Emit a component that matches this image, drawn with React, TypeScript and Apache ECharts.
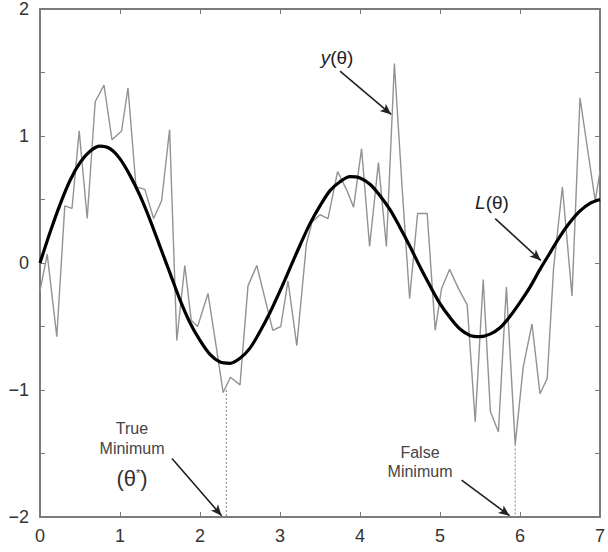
import React, { useEffect, useRef } from "react";
import * as echarts from "echarts";

// Noisy measurements y(θ)
const thetaNoisy = [
  0.0, 0.09, 0.21, 0.31, 0.4, 0.49, 0.59, 0.69, 0.8, 0.9, 1.02, 1.1, 1.2, 1.31, 1.42, 1.52, 1.62,
  1.71, 1.81, 1.89, 1.97, 2.1, 2.21, 2.29, 2.38, 2.5, 2.6, 2.71, 2.91, 3.01, 3.1, 3.21, 3.33, 3.4,
  3.5, 3.6, 3.72, 3.83, 3.92, 4.02, 4.12, 4.23, 4.33, 4.43, 4.53, 4.62, 4.72, 4.84, 4.94, 5.02,
  5.12, 5.23, 5.34, 5.44, 5.54, 5.63, 5.73, 5.83, 5.94, 6.04, 6.15, 6.25, 6.34, 6.42, 6.53, 6.65,
  6.75, 6.94, 7.0,
];
const yNoisy = [
  -0.22, 0.07, -0.58, 0.45, 0.43, 1.04, 0.35, 1.27, 1.4, 0.97, 1.04, 1.38, 0.6, 0.58, 0.35, 0.49, 1.05,
  -0.61, -0.02, -0.45, -0.5, -0.24, -0.69, -1.02, -0.9, -0.96, -0.18, -0.02, -0.53, -0.5, -0.14, -0.65, 0.15, 0.32,
  0.38, 0.35, 0.72, 0.58, 0.44, 0.9, 0.13, 0.79, 0.13, 1.57, 0.56, -0.28, 0.39, 0.39, -0.53, -0.2,
  -0.05, -0.2, -0.33, -1.25, -0.13, -1.17, -1.33, -0.19, -1.43, -0.82, -0.48, -1.03, -0.91, -0.04, 0.6, -0.26,
  1.3, 0.49, 0.72,
];

// Smooth loss function L(θ), read at θ = 0, 0.125, ..., 7
const thetaSmooth = [
  0, 0.125, 0.25, 0.375, 0.5, 0.625, 0.75, 0.875, 1, 1.125, 1.25, 1.375, 1.5, 1.625, 1.75, 1.875,
  2, 2.125, 2.25, 2.375, 2.5, 2.625, 2.75, 2.875, 3, 3.125, 3.25, 3.375, 3.5, 3.625, 3.75, 3.875,
  4, 4.125, 4.25, 4.375, 4.5, 4.625, 4.75, 4.875, 5, 5.125, 5.25, 5.375, 5.5, 5.625, 5.75, 5.875,
  6, 6.125, 6.25, 6.375, 6.5, 6.625, 6.75, 6.875, 7,
];
const lSmooth = [
  0, 0.24, 0.46, 0.65, 0.79, 0.88, 0.92, 0.9, 0.82, 0.69, 0.53, 0.34, 0.13, -0.08, -0.29, -0.47,
  -0.61, -0.72, -0.78, -0.79, -0.75, -0.67, -0.54, -0.39, -0.22, -0.04, 0.14, 0.31, 0.45, 0.57, 0.64, 0.68,
  0.67, 0.62, 0.53, 0.42, 0.28, 0.13, -0.03, -0.18, -0.32, -0.43, -0.52, -0.57, -0.58, -0.56, -0.51, -0.42,
  -0.31, -0.19, -0.05, 0.08, 0.21, 0.32, 0.41, 0.47, 0.5,
];

const xTicks = [0, 1, 2, 3, 4, 5, 6, 7];
const yTicks = [-2, -1, 0, 1, 2];

// Annotation anchors (data coordinates)
const trueMinTheta = 2.33;
const trueMinY = -1.0;
const falseMinTheta = 5.94;
const falseMinY = -1.43;
const arrowYTheta = [[3.75, 1.51], [4.39, 1.17]];
const arrowLTheta = [[5.69, 0.35], [6.26, 0.02]];
const arrowTrueMin = [[1.65, -1.54], [2.27, -1.99]];
const arrowFalseMin = [[5.27, -1.71], [5.87, -1.99]];

const FONT = "'Liberation Sans', Arial, Helvetica, sans-serif";

export default function App() {
  const ref = useRef<HTMLDivElement>(null);
  useEffect(() => {
    if (!ref.current) return;
    const chart = echarts.init(ref.current, undefined, { renderer: "svg" });
    const xMin = xTicks[0];
    const xMax = xTicks[xTicks.length - 1];
    const yMin = yTicks[0];
    const yMax = yTicks[yTicks.length - 1];
    const axisLineStyle = { color: "#7a7a7a", width: 2 };
    const tick = () => ({ show: true, inside: true, length: 5, lineStyle: { color: "#7a7a7a", width: 1 } });
    const fmtY = (v: number) => {
      if (Math.abs(v - Math.round(v)) > 1e-6) return "";
      return v < 0 ? "\u2212" + Math.abs(v) : String(v);
    };
    const arrow = (pts: number[][]) => [
      { coord: pts[0], symbol: "none" },
      { coord: pts[1], symbol: "arrow" },
    ];
    chart.setOption({
      animation: false,
      backgroundColor: "#ffffff",
      grid: { left: 40, right: 8, top: 7, bottom: 35, containLabel: false },
      xAxis: [
        {
          type: "value",
          min: xMin,
          max: xMax,
          interval: 1,
          position: "bottom",
          axisLine: { onZero: false, lineStyle: axisLineStyle },
          axisTick: tick(),
          splitLine: { show: false },
          axisLabel: { fontSize: 18, color: "#333", fontFamily: FONT, margin: 10 },
        },
        {
          type: "value",
          min: xMin,
          max: xMax,
          interval: 1,
          position: "top",
          axisLine: { onZero: false, lineStyle: axisLineStyle },
          axisTick: tick(),
          splitLine: { show: false },
          axisLabel: { show: false },
        },
      ],
      yAxis: [
        {
          type: "value",
          min: yMin,
          max: yMax,
          interval: 0.5,
          position: "left",
          axisLine: { show: true, onZero: false, lineStyle: axisLineStyle },
          axisTick: tick(),
          splitLine: { show: false },
          axisLabel: { fontSize: 18, color: "#333", fontFamily: FONT, margin: 11, formatter: fmtY },
        },
        {
          type: "value",
          min: yMin,
          max: yMax,
          interval: 0.5,
          position: "right",
          axisLine: { show: true, onZero: false, lineStyle: axisLineStyle },
          axisTick: tick(),
          splitLine: { show: false },
          axisLabel: { show: false },
        },
      ],
      series: [
        {
          name: "y(θ)",
          type: "line",
          data: thetaNoisy.map((t, i) => [t, yNoisy[i]]),
          showSymbol: false,
          lineStyle: { color: "#929292", width: 1.4 },
          z: 2,
        },
        {
          name: "L(θ)",
          type: "line",
          data: thetaSmooth.map((t, i) => [t, lSmooth[i]]),
          smooth: 0.3,
          showSymbol: false,
          lineStyle: { color: "#000", width: 3.2 },
          z: 3,
        },
        {
          name: "trueMin",
          type: "line",
          data: [
            [trueMinTheta, trueMinY],
            [trueMinTheta, yMin],
          ],
          showSymbol: false,
          lineStyle: { color: "#9a9a9a", width: 1.2, type: [2, 2] },
          z: 1,
          markLine: {
            silent: true,
            symbolSize: [7, 11],
            label: { show: false },
            lineStyle: { color: "#222", width: 1.6, type: "solid" },
            data: [arrow(arrowYTheta), arrow(arrowLTheta), arrow(arrowTrueMin), arrow(arrowFalseMin)],
          },
        },
        {
          name: "falseMin",
          type: "line",
          data: [
            [falseMinTheta, falseMinY],
            [falseMinTheta, yMin],
          ],
          showSymbol: false,
          lineStyle: { color: "#9a9a9a", width: 1.2, type: [2, 2] },
          z: 1,
        },
      ],
      graphic: [
        {
          type: "text",
          x: 337,
          y: 57,
          style: {
            text: "{i|y}(θ)",
            fontSize: 19,
            fontFamily: FONT,
            fill: "#222",
            align: "center",
            verticalAlign: "middle",
            rich: { i: { fontStyle: "italic", fontSize: 19, fontFamily: FONT, fill: "#222" } },
          },
        },
        {
          type: "text",
          x: 492,
          y: 202,
          style: {
            text: "{i|L}(θ)",
            fontSize: 19,
            fontFamily: FONT,
            fill: "#222",
            align: "center",
            verticalAlign: "middle",
            rich: { i: { fontStyle: "italic", fontSize: 19, fontFamily: FONT, fill: "#222" } },
          },
        },
        {
          type: "text",
          x: 132,
          y: 428,
          style: { text: "True", fontSize: 16, fontFamily: FONT, fill: "#444", align: "center", verticalAlign: "middle" },
        },
        {
          type: "text",
          x: 132,
          y: 448,
          style: { text: "Minimum", fontSize: 16, fontFamily: FONT, fill: "#444", align: "center", verticalAlign: "middle" },
        },
        {
          type: "text",
          x: 132,
          y: 478,
          style: {
            text: "(θ{s|*})",
            fontSize: 22,
            fontFamily: FONT,
            fill: "#333",
            align: "center",
            verticalAlign: "middle",
            rich: { s: { fontSize: 11, fontFamily: FONT, fill: "#333", verticalAlign: "top", padding: [0, 0, 10, 0] } },
          },
        },
        {
          type: "text",
          x: 420,
          y: 452,
          style: { text: "False", fontSize: 16, fontFamily: FONT, fill: "#444", align: "center", verticalAlign: "middle" },
        },
        {
          type: "text",
          x: 420,
          y: 471,
          style: { text: "Minimum", fontSize: 16, fontFamily: FONT, fill: "#444", align: "center", verticalAlign: "middle" },
        },
      ],
    });
    return () => chart.dispose();
  }, []);
  return (
    <div
      ref={ref}
      style={{ position: "fixed", left: 0, top: 0, width: 608, height: 552, background: "#fff" }}
    />
  );
}
